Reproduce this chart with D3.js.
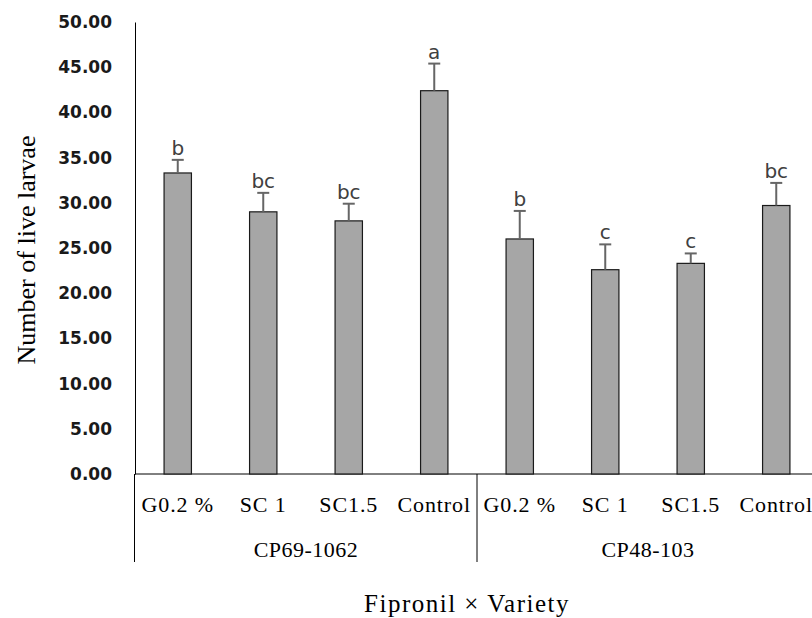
<!DOCTYPE html>
<html>
<head>
<meta charset="utf-8">
<script src="https://cdn.jsdelivr.net/npm/d3@7"></script>
<style>
  body { margin: 0; background: #fff; }
  svg { display: block; }
</style>
</head>
<body>
<svg id="chart" width="812" height="618"></svg>
<script>
// data
const treatments = ['G0.2 %', 'SC 1', 'SC1.5', 'Control'];
const varieties = ['CP69-1062', 'CP48-103'];
const means = [33.3, 29.0, 28.0, 42.4, 26.0, 22.6, 23.3, 29.7];
const errors = [1.45, 2.1, 1.9, 3.0, 3.1, 2.8, 1.1, 2.5];
const letters = ['b', 'bc', 'bc', 'a', 'b', 'c', 'c', 'bc'];
const yTicks = [0, 5, 10, 15, 20, 25, 30, 35, 40, 45, 50];

(function(){
    const svg = d3.select('#chart');
    const left = 135, right = 819, top = 22, bottom = 474;
    const serif = 'Liberation Serif, Times New Roman, serif';

    const rows = [];
    varieties.forEach((v, vi) => treatments.forEach((t, ti) => {
        const i = vi * treatments.length + ti;
        rows.push({key: i, variety: v, treatment: t, mean: means[i], err: errors[i], letter: letters[i]});
    }));

    const x = d3.scaleBand().domain(rows.map(d => d.key)).range([left, right]).paddingInner(0.68).paddingOuter(0.34);
    const y = d3.scaleLinear().domain([0, 50]).range([bottom, top]);

    // y axis labels, no tick marks
    const yAxis = svg.append('g').attr('transform', `translate(${left},0)`)
        .call(d3.axisLeft(y).tickValues(yTicks).tickFormat(d3.format('.2f')).tickSize(0).tickPadding(23));
    yAxis.select('.domain').attr('stroke', '#000').attr('stroke-width', 1);
    yAxis.selectAll('text')
        .attr('font-family', 'DejaVu Sans, sans-serif').attr('font-size', 17)
        .attr('font-weight', 'bold').attr('fill', '#1a1a1a');

    // x axis line
    svg.append('line').attr('x1', left).attr('x2', 812).attr('y1', bottom).attr('y2', bottom)
        .attr('stroke', '#000').attr('stroke-width', 1);

    // group separators
    const gap = x(4) - x(3) - x.bandwidth();
    const sepX = [left - 0.5, x(4) - gap / 2];
    svg.selectAll('line.sep').data(sepX).join('line').attr('class', 'sep')
        .attr('x1', d => d).attr('x2', d => d).attr('y1', bottom).attr('y2', 562)
        .attr('stroke', '#000').attr('stroke-width', 1);

    // bars
    svg.selectAll('rect.bar').data(rows).join('rect').attr('class', 'bar')
        .attr('x', d => x(d.key)).attr('y', d => y(d.mean))
        .attr('width', x.bandwidth()).attr('height', d => y(0) - y(d.mean))
        .attr('fill', '#a6a6a6').attr('stroke', '#1a1a1a').attr('stroke-width', 1.2);

    // error bars (upper only)
    const cx = d => x(d.key) + x.bandwidth() / 2;
    const eb = svg.selectAll('g.err').data(rows).join('g').attr('class', 'err')
        .attr('stroke', '#666').attr('stroke-width', 2);
    eb.append('line').attr('x1', cx).attr('x2', cx)
        .attr('y1', d => y(d.mean)).attr('y2', d => y(d.mean + d.err));
    eb.append('line').attr('x1', d => cx(d) - 6).attr('x2', d => cx(d) + 6)
        .attr('y1', d => y(d.mean + d.err)).attr('y2', d => y(d.mean + d.err));

    // significance letters
    svg.selectAll('text.letter').data(rows).join('text').attr('class', 'letter')
        .attr('x', cx).attr('y', d => y(d.mean + d.err) - 5)
        .attr('text-anchor', 'middle')
        .attr('font-family', 'DejaVu Sans, sans-serif').attr('font-size', 20)
        .attr('fill', '#404040').text(d => d.letter);

    // treatment labels
    svg.selectAll('text.treat').data(rows).join('text').attr('class', 'treat')
        .attr('x', cx).attr('y', 512).attr('text-anchor', 'middle')
        .attr('font-family', serif).attr('font-size', 22).attr('letter-spacing', 0.9)
        .attr('fill', '#000').text(d => d.treatment);

    // variety labels
    svg.selectAll('text.var').data(varieties).join('text').attr('class', 'var')
        .attr('x', (d, i) => (x(i * 4) + x(i * 4 + 3) + x.bandwidth()) / 2)
        .attr('y', 557).attr('text-anchor', 'middle')
        .attr('font-family', serif).attr('font-size', 22).attr('letter-spacing', 0.5)
        .attr('fill', '#000').text(d => d);

    // axis titles
    svg.append('text').attr('x', 467).attr('y', 612).attr('text-anchor', 'middle')
        .attr('font-family', serif).attr('font-size', 25).attr('letter-spacing', 1.5)
        .attr('fill', '#000').text('Fipronil \u00d7 Variety');
    svg.append('text').attr('transform', 'translate(35,250) rotate(-90)').attr('text-anchor', 'middle')
        .attr('font-family', serif).attr('font-size', 26)
        .attr('fill', '#000').text('Number of live larvae');
})();
</script>
</body>
</html>
